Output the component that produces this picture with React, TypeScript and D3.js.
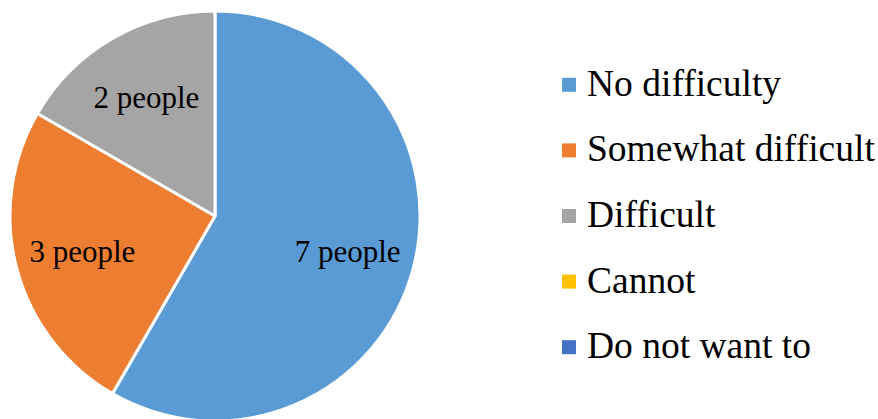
import React from "react";
import * as d3 from "d3";

const categories = ["No difficulty", "Somewhat difficult", "Difficult", "Cannot", "Do not want to"];
const values = [7, 3, 2, 0, 0];
const labels = ["7 people", "3 people", "2 people", "", ""];
const colors = ["#5B9BD5", "#ED7D31", "#A5A5A5", "#FFC000", "#4472C4"];

const W = 878;
const H = 419;
const cx = 215;
const cy = 216;
const R = 205;

export default function App() {
  const pie = d3.pie<number>().sort(null).value((d) => d)(values);
  const arc = d3.arc<d3.PieArcDatum<number>>().innerRadius(0).outerRadius(R);
  const labelArc = d3.arc<d3.PieArcDatum<number>>().innerRadius(R * 0.67).outerRadius(R * 0.67);
  const legendY = d3.scaleBand<string>().domain(categories).range([52, 380]);

  return (
    <svg width={W} height={H} style={{ position: "absolute", left: 0, top: 0, background: "#fff" }}
      fontFamily="'Liberation Serif', 'Times New Roman', serif">
      <g transform={`translate(${cx},${cy})`}>
        {pie.map((p, i) =>
          p.value > 0 ? (
            <path key={i} d={arc(p) || ""} fill={colors[i]} stroke="#fff" strokeWidth={3} strokeLinejoin="round" />
          ) : null
        )}
        {pie.map((p, i) => {
          if (p.value <= 0) return null;
          const [x, y] = labelArc.centroid(p);
          return (
            <text key={"l" + i} x={x} y={y} textAnchor="middle" dominantBaseline="central" fontSize={31} fill="#000">
              {labels[i]}
            </text>
          );
        })}
      </g>
      {categories.map((c, i) => {
        const yc = (legendY(c) || 0) + legendY.bandwidth() / 2;
        return (
          <g key={c}>
            <rect x={562} y={yc - 7} width={14} height={14} fill={colors[i]} />
            <text x={587} y={yc + 11} fontSize={37.5} fill="#000">{c}</text>
          </g>
        );
      })}
    </svg>
  );
}
